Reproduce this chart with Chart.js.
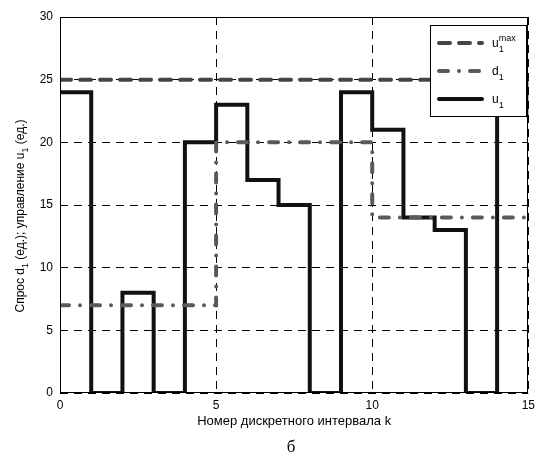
<!DOCTYPE html>
<html>
<head>
<meta charset="utf-8">
<script src="https://cdn.jsdelivr.net/npm/chart.js@4.4.1/dist/chart.umd.min.js"></script>
<style>
  html, body { margin: 0; padding: 0; background: #fff; }
  #wrap { position: relative; width: 540px; height: 459px; }
</style>
</head>
<body>
<div id="wrap"><canvas id="c" width="540" height="459"></canvas></div>
<script>
// Discrete interval numbers k
const steps = [0, 1, 2, 3, 4, 5, 6, 7, 8, 9, 10, 11, 12, 13, 14, 15];
// Upper bound on control u1
const uMax = [25, 25, 25, 25, 25, 25, 25, 25, 25, 25, 25, 25, 25, 25, 25, 25];
// Demand d1 held over each interval (last entry closes the final step)
const demand = [7, 7, 7, 7, 7, 20, 20, 20, 20, 20, 14, 14, 14, 14, 14, 14];
// Control u1 held over each interval (last entry is the value after k = 15)
const control = [24, 0, 8, 0, 20, 23, 17, 15, 0, 24, 21, 14, 13, 0, 25, 22];
// Axis tick labels
const xTicks = [0, 5, 10, 15];
const yTicks = [0, 5, 10, 15, 20, 25, 30];

const FONT = '"Liberation Sans", Arial, sans-serif';

// value i is held from k[i] to k[i+1]; stepped 'before' runs horizontally
// first and then jumps at the next k
const toPoints = vals => steps.map((k, i) => ({ x: k, y: vals[i] }));

// Draws text made of plain / subscript pieces
function richWidth(ctx, segs, size) {
  let w = 0;
  for (const s of segs) {
    ctx.font = (s.s ? size - 3 : size) + 'px ' + FONT;
    w += ctx.measureText(s.t).width;
  }
  return w;
}
function drawRich(ctx, segs, x, y, size) {
  let cx = x - richWidth(ctx, segs, size) / 2;
  ctx.textBaseline = 'alphabetic';
  ctx.textAlign = 'left';
  for (const s of segs) {
    ctx.font = (s.s ? size - 3 : size) + 'px ' + FONT;
    const dy = s.s === 'sub' ? 4 : 0;
    ctx.fillText(s.t, cx, y + dy);
    cx += ctx.measureText(s.t).width;
  }
}

const decorations = {
  id: 'decorations',
  afterDatasetsDraw(chart) {
    const { ctx, chartArea: a } = chart;
    ctx.save();
    // axes box
    ctx.strokeStyle = '#000';
    ctx.lineWidth = 1;
    ctx.setLineDash([]);
    ctx.strokeRect(Math.round(a.left) + 0.5, Math.round(a.top) + 0.5,
                   Math.round(a.right - a.left) - 1, Math.round(a.bottom - a.top) - 1);

    // legend
    const lx = 430.5, ly = 25.5, lw = 96, lh = 91;
    ctx.fillStyle = '#fff';
    ctx.fillRect(lx, ly, lw, lh);
    ctx.strokeRect(lx, ly, lw, lh);
    const entries = [
      { ds: chart.data.datasets[0], y: 43, base: 'u', sup: 'max' },
      { ds: chart.data.datasets[1], y: 71, base: 'd' },
      { ds: chart.data.datasets[2], y: 99, base: 'u' }
    ];
    for (const e of entries) {
      ctx.beginPath();
      ctx.strokeStyle = e.ds.borderColor;
      ctx.lineWidth = e.ds.borderWidth;
      ctx.lineCap = 'round';
      ctx.setLineDash(e.ds.borderDash || []);
      ctx.moveTo(439, e.y);
      ctx.lineTo(482, e.y);
      ctx.stroke();
      ctx.setLineDash([]);
      ctx.fillStyle = '#000';
      ctx.font = '12px ' + FONT;
      ctx.textAlign = 'left';
      ctx.textBaseline = 'alphabetic';
      ctx.fillText(e.base, 492, e.y + 4);
      const bw = ctx.measureText(e.base).width;
      ctx.font = '9px ' + FONT;
      ctx.fillText('1', 492 + bw, e.y + 9);
      if (e.sup) ctx.fillText(e.sup, 492 + bw, e.y - 2);
    }

    // axis titles
    ctx.fillStyle = '#000';
    ctx.textAlign = 'center';
    ctx.textBaseline = 'middle';
    ctx.font = '13px ' + FONT;
    ctx.fillText('Номер дискретного интервала k', (a.left + a.right) / 2, 421);

    ctx.save();
    ctx.translate(20, 216);
    ctx.rotate(-Math.PI / 2);
    drawRich(ctx, [
      { t: 'Спрос d' }, { t: '1', s: 'sub' }, { t: ' (ед.); управление u' }, { t: '1', s: 'sub' }, { t: ' (ед.)' }
    ], 0, 4, 12);
    ctx.restore();

    ctx.font = '17px "Liberation Serif", "Times New Roman", serif';
    ctx.textAlign = 'center';
    ctx.textBaseline = 'middle';
    ctx.fillText('б', (a.left + a.right) / 2 - 3, 448);
    ctx.restore();
  }
};

new Chart(document.getElementById('c'), {
  type: 'line',
  data: {
    datasets: [
      {
        label: 'u1max',
        data: toPoints(uMax),
        borderColor: '#454545',
        borderWidth: 4,
        borderDash: [11, 9],
        borderCapStyle: 'round',
        stepped: 'before',
        pointRadius: 0,
        fill: false,
        clip: 0
      },
      {
        label: 'd1',
        data: toPoints(demand),
        borderColor: '#5a5a5a',
        borderWidth: 4,
        borderDash: [9, 11, 0, 11],
        borderCapStyle: 'round',
        stepped: 'before',
        pointRadius: 0,
        fill: false,
        clip: 0
      },
      {
        label: 'u1',
        data: toPoints(control),
        borderColor: '#111111',
        borderWidth: 4,
        borderCapStyle: 'butt',
        borderJoinStyle: 'miter',
        stepped: 'before',
        pointRadius: 0,
        fill: false,
        clip: 0
      }
    ]
  },
  options: {
    responsive: false,
    animation: false,
    devicePixelRatio: 1,
    layout: { padding: { top: 17, right: 9, left: 0, bottom: 0 } },
    plugins: { legend: { display: false }, tooltip: { enabled: false } },
    scales: {
      x: {
        type: 'linear',
        min: 0, max: 15,
        afterBuildTicks: s => { s.ticks = xTicks.map(v => ({ value: v })); },
        afterFit: s => { s.height = 66; },
        grid: { color: '#000', lineWidth: 1, drawTicks: false },
        border: { display: false, dash: [8, 6] },
        ticks: { color: '#000', font: { family: FONT, size: 12 }, padding: 5, maxRotation: 0 }
      },
      y: {
        type: 'linear',
        min: 0, max: 30,
        afterBuildTicks: s => { s.ticks = yTicks.map(v => ({ value: v })); },
        afterFit: s => { s.width = 60; },
        grid: { color: '#000', lineWidth: 1, drawTicks: false },
        border: { display: false, dash: [8, 6] },
        ticks: { color: '#000', font: { family: FONT, size: 12 }, padding: 7 }
      }
    }
  },
  plugins: [decorations]
});
</script>
</body>
</html>
